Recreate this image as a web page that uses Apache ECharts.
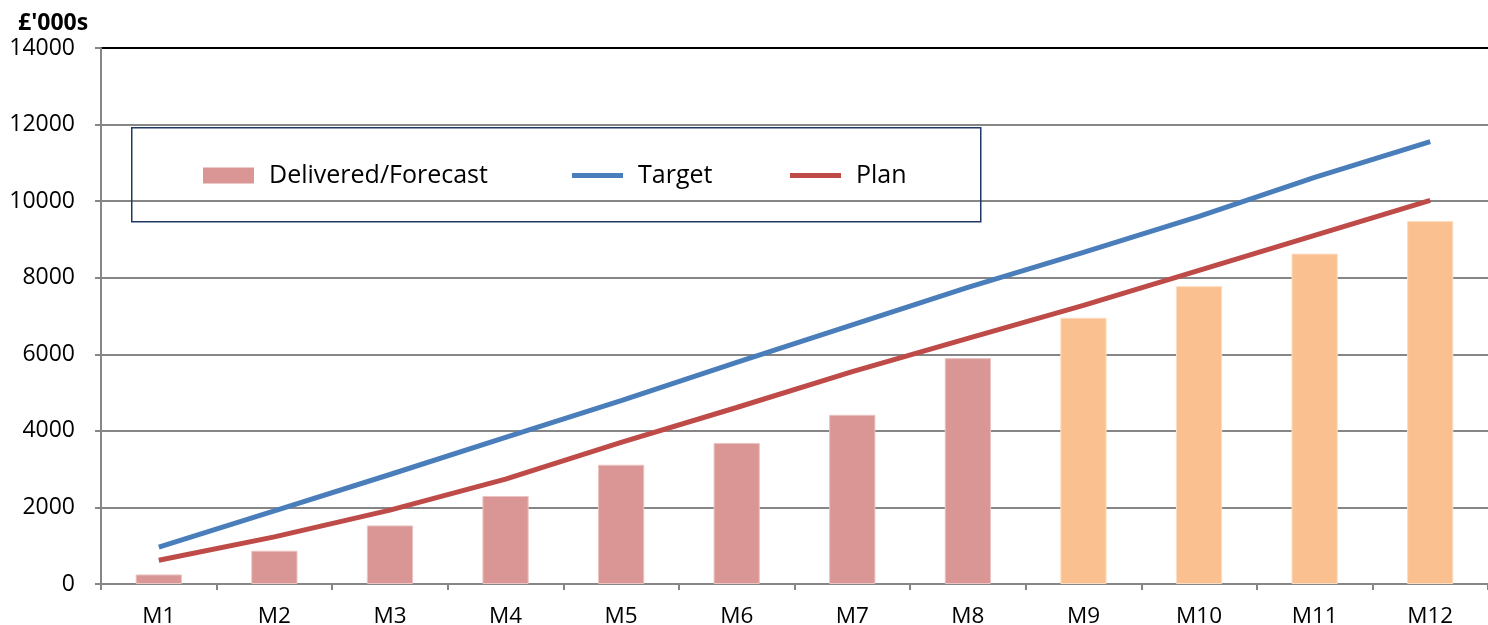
<!DOCTYPE html>
<html>
<head>
<meta charset="utf-8">
<title>Delivered vs Target vs Plan</title>
<script src="https://cdn.jsdelivr.net/npm/echarts@6/dist/echarts.min.js"></script>
<style>
  html, body { margin: 0; padding: 0; background: #ffffff; }
  #chart { width: 1488px; height: 625px; }
</style>
</head>
<body>
<div id="chart"></div>
<script>
// Months on the category axis
const months = ['M1', 'M2', 'M3', 'M4', 'M5', 'M6', 'M7', 'M8', 'M9', 'M10', 'M11', 'M12'];
// Delivered to date (M1–M8) and forecast for the rest of the year (M9–M12), £'000s
const delivered = [250, 870, 1530, 2300, 3115, 3685, 4420, 5900];
const forecast = [6955, 7780, 8630, 9480];
// Cumulative target and plan, £'000s
const target = [965, 1910, 2860, 3830, 4790, 5790, 6770, 7750, 8660, 9600, 10620, 11555];
const plan = [620, 1230, 1930, 2740, 3700, 4610, 5545, 6415, 7280, 8190, 9105, 10020];
// Value axis ticks
const yTicks = [0, 2000, 4000, 6000, 8000, 10000, 12000, 14000];

const deliveredColor = '#D99694';
const forecastColor = '#FAC090';
const targetColor = '#4A7EBB';
const planColor = '#BE4B48';
const font = '"Open Sans", "Noto Sans", sans-serif';

const barData = delivered.map(v => ({
  value: v,
  itemStyle: { color: deliveredColor, borderColor: '#EBC3C2' }
})).concat(forecast.map(v => ({
  value: v,
  itemStyle: { color: forecastColor, borderColor: '#FCDDC2' }
})));

// One legend entry per block so each swatch sits at its own spot in the key box
const lineIcon = 'path://M0,0H51V5H0Z';
function legendAt(left, name, icon) {
  return {
    left: left, top: 163, padding: 0,
    itemWidth: 51, itemHeight: 16,
    symbolKeepAspect: true,
    textStyle: { fontFamily: font, fontSize: 25, color: '#000', padding: [0, 0, 0, 10] },
    data: [{ name: name, icon: icon }]
  };
}

const chart = echarts.init(document.getElementById('chart'), null, { renderer: 'canvas' });
chart.setOption({
  animation: false,
  backgroundColor: '#ffffff',
  textStyle: { fontFamily: font },
  grid: { left: 101, right: 0, top: 48, bottom: 41, containLabel: false, outerBoundsMode: 'none' },
  graphic: [
    {
      type: 'text', left: 18, top: 12,
      style: { text: "£'000s", font: 'bold 23px ' + font, fill: '#000' }
    },
    {
      type: 'rect', left: 131, top: 127, z: 5,
      shape: { width: 849, height: 94 },
      style: { fill: 'rgba(0,0,0,0)', stroke: '#1F3864', lineWidth: 1.5 }
    }
  ],
  legend: [
    legendAt(203, 'Delivered/Forecast', 'rect'),
    legendAt(572, 'Target', lineIcon),
    legendAt(790, 'Plan', lineIcon)
  ],
  xAxis: {
    type: 'category',
    data: months,
    boundaryGap: true,
    axisLine: { lineStyle: { color: '#868686', width: 2 } },
    axisTick: { show: true, length: 6, alignWithLabel: false, lineStyle: { color: '#868686', width: 2 } },
    axisLabel: { color: '#000', fontSize: 22.5, fontFamily: font, margin: 21 }
  },
  yAxis: {
    type: 'value',
    min: 0, max: yTicks[yTicks.length - 1], interval: yTicks[1] - yTicks[0],
    axisLine: { show: true, lineStyle: { color: '#868686', width: 2 } },
    axisTick: { show: true, length: 6, lineStyle: { color: '#868686', width: 2 } },
    axisLabel: { color: '#000', fontSize: 23, fontFamily: font, margin: 26, formatter: v => String(v) },
    splitLine: {
      show: true,
      lineStyle: {
        color: yTicks.map((t, i) => i === yTicks.length - 1 ? '#000000' : '#868686'),
        width: 2
      }
    }
  },
  series: [
    {
      name: 'Delivered/Forecast',
      type: 'bar',
      data: barData,
      barWidth: '40%',
      itemStyle: { color: deliveredColor, borderWidth: 1 }
    },
    {
      name: 'Target',
      type: 'line',
      data: target,
      symbol: 'none',
      lineStyle: { color: targetColor, width: 5, cap: 'butt' },
      itemStyle: { color: targetColor }
    },
    {
      name: 'Plan',
      type: 'line',
      data: plan,
      symbol: 'none',
      lineStyle: { color: planColor, width: 5, cap: 'butt' },
      itemStyle: { color: planColor }
    }
  ]
});
</script>
</body>
</html>
